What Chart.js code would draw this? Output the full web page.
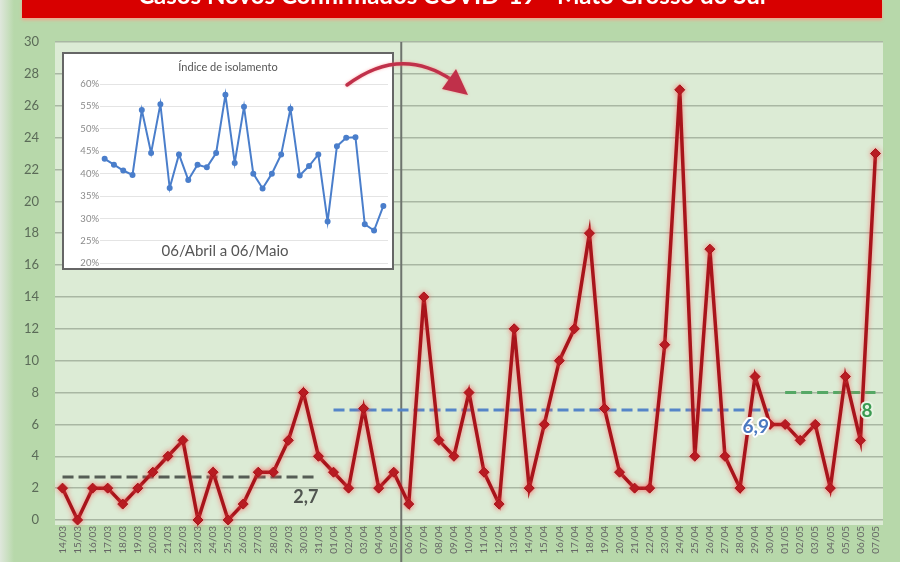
<!DOCTYPE html>
<html><head><meta charset="utf-8">
<script src="https://cdn.jsdelivr.net/npm/chart.js@4/dist/chart.umd.min.js"></script>
<style>
html,body{margin:0;padding:0;width:900px;height:562px;overflow:hidden;}
body{background:linear-gradient(to right,#dfe7dc 0px,#c9dfc0 8px,#b7d8aa 14px,#b7d8aa 100%);position:relative;}
#main{position:absolute;left:0;top:0;}
#titlebar{position:absolute;left:22px;top:0;width:860px;height:18px;background:#d80000;overflow:hidden;box-shadow:0 2px 3px #f1a68e;}
#titlebar span{position:absolute;left:0;right:0;top:-17px;text-align:center;font:bold 24px Lato, "Open Sans", sans-serif;color:#fff;line-height:24px;white-space:nowrap;}
#insetbox{position:absolute;left:62px;top:52px;width:332px;height:218px;box-sizing:border-box;border:2px solid #666;background:#fff;}
#inset{position:absolute;left:62px;top:52px;}
#overlay{position:absolute;left:0;top:0;pointer-events:none;}
</style></head><body>
<canvas id="main" width="900" height="562"></canvas>
<div id="titlebar"><span>Casos Novos Confirmados COVID-19 - Mato Grosso do Sul</span></div>
<div id="insetbox"></div>
<canvas id="inset" width="332" height="218"></canvas>
<canvas id="overlay" width="900" height="562"></canvas>
<script>
// ---- Data ----
const datas = ['14/03','15/03','16/03','17/03','18/03','19/03','20/03','21/03','22/03','23/03','24/03','25/03','26/03','27/03','28/03','29/03','30/03','31/03',
'01/04','02/04','03/04','04/04','05/04','06/04','07/04','08/04','09/04','10/04','11/04','12/04','13/04','14/04','15/04','16/04','17/04','18/04','19/04','20/04','21/04','22/04','23/04','24/04','25/04','26/04','27/04','28/04','29/04','30/04',
'01/05','02/05','03/05','04/05','05/05','06/05','07/05'];
const casosNovos = [2,0,2,2,1,2,3,4,5,0,3,0,1,3,3,5,8,4,
3,2,7,2,3,1,14,5,4,8,3,1,12,2,6,10,12,18,7,3,2,2,11,27,4,17,4,2,9,6,
6,5,6,2,9,5,23];
const mediaMarco = 2.7;
const mediaAbril = 6.9;
const mediaMaio = 8;
const inicioIsolamento = '06/04';
const isoDatas = ['06/04','07/04','08/04','09/04','10/04','11/04','12/04','13/04','14/04','15/04','16/04','17/04','18/04','19/04','20/04','21/04','22/04','23/04','24/04','25/04','26/04','27/04','28/04','29/04','30/04','01/05','02/05','03/05','04/05','05/05','06/05'];
const isolamento = [43.3,42.0,40.7,39.7,54.2,44.6,55.5,36.8,44.3,38.6,42.0,41.4,44.6,57.6,42.4,54.9,40.0,36.7,40.0,44.3,54.5,39.6,41.7,44.3,29.3,46.1,48.0,48.1,28.7,27.3,32.8];
const isoTicks = [20,25,30,35,40,45,50,55,60];

function faixa(ini, fim, val){
  const a = datas.indexOf(ini), b = datas.indexOf(fim);
  return datas.map((_, i) => (i >= a && i <= b) ? val : null);
}
const fmt = v => String(v).replace('.', ',');

const FONT = 'Lato, "Open Sans", sans-serif';

const mainPlugin = {
  id: 'mainDeco',
  beforeDraw(chart){
    const {ctx, chartArea:a} = chart;
    ctx.save();
    ctx.fillStyle = '#dcebd5';
    ctx.fillRect(a.left, a.top, a.right - a.left, a.bottom - a.top + 5);
    ctx.restore();
  },
  beforeDatasetsDraw(chart){
    const {ctx, chartArea:a} = chart;
    const xs = chart.scales.x;
    const x = xs.getPixelForValue(datas.indexOf(inicioIsolamento) - 0.5);
    ctx.save();
    ctx.strokeStyle = '#6e746e';
    ctx.lineWidth = 2;
    ctx.beginPath(); ctx.moveTo(x, a.top); ctx.lineTo(x, chart.height); ctx.stroke();
    ctx.restore();
  },
  beforeDatasetDraw(chart, args){
    if (args.index === 0){
      chart.ctx.save();
      chart.ctx.shadowColor = 'rgba(255,90,90,0.7)';
      chart.ctx.shadowBlur = 5;
    }
  },
  afterDatasetDraw(chart, args){
    if (args.index === 0) chart.ctx.restore();
  },
  afterDatasetsDraw(chart){
    const {ctx} = chart;
    const xs = chart.scales.x, ys = chart.scales.y;
    function rot(txt, fimLabel, val, color, halo, dy, dx, size){
      const x = xs.getPixelForValue(datas.indexOf(fimLabel)) + dx;
      const y = ys.getPixelForValue(val) + dy;
      ctx.save();
      ctx.font = 'bold ' + size + 'px ' + FONT;
      ctx.textAlign = 'right';
      ctx.textBaseline = 'top';
      if (halo){
        ctx.strokeStyle = halo; ctx.lineWidth = 4; ctx.lineJoin = 'round';
        ctx.strokeText(txt, x, y);
      }
      ctx.fillStyle = color;
      ctx.fillText(txt, x, y);
      ctx.restore();
    }
    rot(fmt(mediaMarco), '31/03', mediaMarco, '#505550', null, 11, 0, 18);
    rot(fmt(mediaAbril), '30/04', mediaAbril, '#4a78c0', '#ffffff', 7, -1, 19);
    rot(fmt(mediaMaio), '07/05', mediaMaio, '#3a9a50', '#e6f3e2', 9, -3, 19);
  }
};

new Chart(document.getElementById('main'), {
  type: 'line',
  data: {
    labels: datas,
    datasets: [
      {label:'Casos novos', data: casosNovos, borderColor:'#a8141b', backgroundColor:'#b0151c',
       borderWidth:3.5, pointStyle:'rectRot', pointRadius:5, pointHoverRadius:5, pointBorderWidth:1,
       tension:0, order:0, clip:false},
      {label:'Média março', data: faixa('14/03','31/03', mediaMarco), borderColor:'#555d55',
       borderWidth:3, borderDash:[11,5], pointRadius:0, order:1, clip:false},
      {label:'Média abril', data: faixa('01/04','30/04', mediaAbril), borderColor:'#5585c8',
       borderWidth:3, borderDash:[11,5], pointRadius:0, order:1, clip:false},
      {label:'Média maio', data: faixa('01/05','07/05', mediaMaio), borderColor:'#55a865',
       borderWidth:3, borderDash:[11,5], pointRadius:0, order:1, clip:false}
    ]
  },
  options: {
    responsive:false, animation:false, devicePixelRatio:1,
    layout:{padding:{top:42, right:17, left:0, bottom:0}},
    plugins:{legend:{display:false}, tooltip:{enabled:false}, title:{display:false}},
    scales:{
      x:{type:'category', offset:true,
         grid:{display:false, drawTicks:false}, border:{display:false},
         ticks:{autoSkip:false, maxRotation:90, minRotation:90, color:'#666', padding:6,
                font:{size:10, family:FONT}},
         afterFit(s){ s.height = 42; }},
      y:{min:0, max:30,
         grid:{color:'#a9b7a3', lineWidth:1.5, drawTicks:false}, border:{display:false},
         ticks:{stepSize:2, color:'#5b6b58', padding:16, font:{size:13, family:FONT}},
         afterFit(s){ s.width = 55; }}
    }
  },
  plugins:[mainPlugin]
});

const insetPlugin = {
  id:'insetText',
  afterDraw(chart){
    const {ctx} = chart;
    const ys = chart.scales.y;
    ctx.save();
    ctx.fillStyle = '#555';
    ctx.textAlign = 'center';
    ctx.textBaseline = 'middle';
    ctx.font = '11px ' + FONT;
    ctx.fillText('Índice de isolamento', chart.width/2, 15);
    ctx.font = '15px ' + FONT;
    ctx.fillText('06/Abril a 06/Maio', chart.width/2 - 3, ys.getPixelForValue(22.6));
    ctx.restore();
  }
};

new Chart(document.getElementById('inset'), {
  type:'line',
  data:{labels: isoDatas, datasets:[{label:'Índice de isolamento', data: isolamento,
    borderColor:'#4a7ecb', backgroundColor:'#4a7ecb', borderWidth:2, pointRadius:2, pointHoverRadius:2, tension:0}]},
  options:{
    responsive:false, animation:false, devicePixelRatio:1,
    layout:{padding:{top:32, bottom:6, right:6, left:0}},
    plugins:{legend:{display:false}, tooltip:{enabled:false}, title:{display:false}},
    scales:{
      x:{display:false, offset:true},
      y:{min:isoTicks[0], max:isoTicks[isoTicks.length-1],
         afterBuildTicks(s){ s.ticks = isoTicks.map(v => ({value:v})); },
         ticks:{callback: v => v + '%', color:'#8a8a8a', padding:1, font:{size:9.5, family:FONT}},
         grid:{color:'#e4e4e4', drawTicks:false}, border:{display:false},
         afterFit(s){ s.width = 38; }}
    }
  },
  plugins:[insetPlugin]
});

// decorative arrow
const ov = document.getElementById('overlay').getContext('2d');
ov.save();
ov.shadowColor = 'rgba(255,120,120,0.6)';
ov.shadowBlur = 3;
ov.strokeStyle = '#c0304a';
ov.lineWidth = 3.5;
ov.lineCap = 'round';
ov.beginPath(); ov.moveTo(347,85); ov.quadraticCurveTo(400,45,452,80); ov.stroke();
ov.fillStyle = '#c0304a';
ov.beginPath(); ov.moveTo(468,95); ov.lineTo(456,69); ov.lineTo(442,89); ov.closePath(); ov.fill();
ov.restore();
</script>
</body></html>
